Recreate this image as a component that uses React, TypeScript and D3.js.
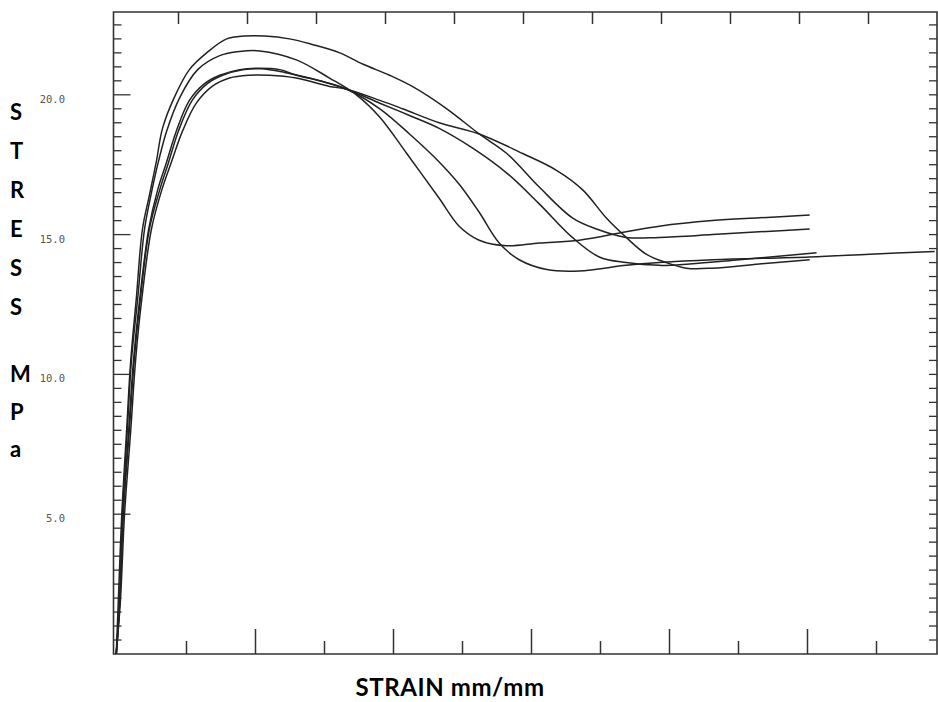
import React from 'react';
import * as d3 from 'd3';

// stress-strain curves, five specimens (strain in mm/mm, stress in MPa)
const specimen1: [number, number][] = [
  [0.004, 0], [0.007, 1.9], [0.012, 5.0], [0.019, 8.0], [0.025, 10.5], [0.033, 12.7],
  [0.042, 15.2], [0.052, 16.4], [0.062, 17.6], [0.071, 18.8], [0.088, 19.9], [0.110, 20.9],
  [0.135, 21.5], [0.164, 22.0], [0.190, 22.1], [0.219, 22.1], [0.255, 22.0], [0.288, 21.8],
  [0.328, 21.5], [0.361, 21.1], [0.400, 20.7], [0.433, 20.3], [0.483, 19.5], [0.530, 18.6],
  [0.570, 17.9], [0.617, 16.7], [0.665, 15.6], [0.700, 15.2], [0.743, 14.9], [0.791, 14.9],
  [0.868, 15.0], [0.936, 15.1], [1.009, 15.2]
];

const specimen2: [number, number][] = [
  [0.004, 0], [0.009, 1.9], [0.013, 5.0], [0.020, 8.0], [0.026, 10.5], [0.035, 12.7],
  [0.045, 15.2], [0.055, 16.5], [0.065, 17.6], [0.077, 18.7], [0.096, 19.9], [0.122, 20.9],
  [0.154, 21.4], [0.183, 21.55], [0.212, 21.57], [0.265, 21.25], [0.313, 20.6], [0.352, 20.0],
  [0.386, 19.2], [0.425, 17.9], [0.472, 16.3], [0.501, 15.3], [0.530, 14.8], [0.570, 14.6],
  [0.617, 14.7], [0.675, 14.8], [0.743, 15.1], [0.791, 15.3], [0.868, 15.5], [0.936, 15.6],
  [1.009, 15.7]
];

const specimen3: [number, number][] = [
  [0.004, 0], [0.009, 1.9], [0.014, 5.0], [0.022, 8.0], [0.029, 10.5], [0.038, 12.7],
  [0.051, 15.2], [0.064, 16.6], [0.077, 17.6], [0.091, 18.7], [0.110, 19.8], [0.132, 20.4],
  [0.154, 20.7], [0.183, 20.9], [0.209, 20.95], [0.241, 20.9], [0.265, 20.7], [0.299, 20.5],
  [0.338, 20.2], [0.386, 19.5], [0.429, 18.6], [0.472, 17.6], [0.501, 16.8], [0.530, 15.8],
  [0.559, 14.7], [0.588, 14.1], [0.628, 13.75], [0.675, 13.7], [0.743, 13.9], [0.791, 14.0],
  [0.868, 14.1], [1.009, 14.2], [1.096, 14.3], [1.190, 14.4]
];

const specimen4: [number, number][] = [
  [0.004, 0], [0.009, 1.9], [0.014, 5.0], [0.023, 8.0], [0.030, 10.5], [0.039, 12.7],
  [0.052, 15.2], [0.067, 16.6], [0.080, 17.6], [0.094, 18.7], [0.114, 19.8], [0.136, 20.4],
  [0.158, 20.7], [0.187, 20.9], [0.214, 20.93], [0.248, 20.8], [0.284, 20.6], [0.338, 20.2],
  [0.386, 19.7], [0.429, 19.26], [0.472, 18.8], [0.520, 18.1], [0.570, 17.2], [0.617, 16.1],
  [0.665, 14.9], [0.704, 14.2], [0.743, 14.0], [0.791, 13.9], [0.835, 13.95], [0.907, 14.1],
  [1.019, 14.35]
];

const specimen5: [number, number][] = [
  [0.004, 0], [0.010, 1.9], [0.016, 5.0], [0.025, 8.0], [0.032, 10.5], [0.041, 12.7],
  [0.055, 15.2], [0.070, 16.6], [0.084, 17.6], [0.100, 18.7], [0.120, 19.7], [0.143, 20.3],
  [0.168, 20.6], [0.197, 20.7], [0.226, 20.7], [0.265, 20.6], [0.313, 20.3], [0.338, 20.2],
  [0.386, 19.8], [0.419, 19.5], [0.472, 19.0], [0.530, 18.6], [0.593, 17.9], [0.642, 17.3],
  [0.680, 16.6], [0.714, 15.6], [0.743, 14.9], [0.772, 14.3], [0.801, 14.0], [0.830, 13.8],
  [0.868, 13.8], [0.936, 13.95], [1.009, 14.1]
];

const specimens = [specimen1, specimen2, specimen3, specimen4, specimen5];

// axis ticks
const xTicks = d3.range(1, 12).map(i => i / 10);
const yMinorTicks = d3.range(1, 46).map(i => i / 2);
const yTickLabels = [5, 10, 15, 20];
const stressLetters = ['S', 'T', 'R', 'E', 'S', 'S'];
const unitLetters = ['M', 'P', 'a'];

const W = 938;
const H = 702;
const left = 113.5;
const right = 937;
const top = 12;
const bottom = 654;

const App: React.FC = () => {
  const x = d3.scaleLinear().domain([0, 1.2]).range([left, left + 1.2 * 690]);
  const y = d3.scaleLinear().domain([0, 23]).range([bottom, bottom - 23 * 27.96]);

  const line = d3.line<[number, number]>()
    .x(d => x(d[0]))
    .y(d => y(d[1]))
    .curve(d3.curveCatmullRom.alpha(0.5));

  const ink = '#222';

  return (
    <div style={{ position: 'absolute', left: 0, top: 0 }}>
      <svg width={W} height={H} style={{ display: 'block', background: '#fff' }}>
        <defs>
          <clipPath id="plot">
            <rect x={left} y={top} width={right - left} height={bottom - top} />
          </clipPath>
        </defs>

        {/* frame */}
        <path
          d={`M${left},${top}H${right}V${bottom}H${left}Z`}
          fill="none"
          stroke="#333"
          strokeWidth={1.6}
        />

        {/* left + right ticks */}
        {yMinorTicks.map(v => {
          const major = v % 5 === 0;
          return (
            <g key={`yt-${v}`} stroke="#333" strokeWidth={1.3}>
              <line x1={left} x2={left + (major ? 17 : 8)} y1={y(v)} y2={y(v)} />
              <line x1={right} x2={right - 8} y1={y(v)} y2={y(v)} />
            </g>
          );
        })}

        {/* top + bottom ticks */}
        {xTicks.map((v, i) => (
          <g key={`xt-${v}`} stroke="#333" strokeWidth={1.5}>
            <line x1={x(v) - 4} x2={x(v) - 4} y1={top} y2={top + 12} />
            <line x1={x(v) + 4} x2={x(v) + 4} y1={bottom} y2={bottom - (i % 2 === 1 ? 25 : 13)} />
          </g>
        ))}

        {/* y tick labels */}
        {yTickLabels.map(v => (
          <text
            key={`yl-${v}`}
            x={65}
            y={y(v) + 5}
            textAnchor="end"
            dominantBaseline="middle"
            fontFamily="'DejaVu Sans Mono', monospace"
            fontSize={10.5}
            fill="#555"
          >
            {v.toFixed(1)}
          </text>
        ))}

        {/* curves */}
        <g clipPath="url(#plot)">
          {specimens.map((s, i) => (
            <path
              key={`c-${i}`}
              d={line(s) || ''}
              fill="none"
              stroke={ink}
              strokeWidth={1.5}
            />
          ))}
        </g>

        {/* y axis title, stacked letters */}
        <g fontFamily="Lato, 'Open Sans', sans-serif" fontWeight={700} fontSize={22} fill="#000">
          {stressLetters.map((c, i) => (
            <text key={`s-${i}`} x={10} y={120 + i * 39}>{c}</text>
          ))}
          {unitLetters.map((c, i) => (
            <text key={`u-${i}`} x={10} y={382 + i * 37.5}>{c}</text>
          ))}
        </g>

        {/* x axis title */}
        <text
          x={450}
          y={696}
          textAnchor="middle"
          fontFamily="Lato, 'Open Sans', sans-serif"
          fontWeight={700}
          fontSize={24}
          letterSpacing={0.6}
          fill="#000"
        >
          STRAIN mm/mm
        </text>
      </svg>
    </div>
  );
};

export default App;
